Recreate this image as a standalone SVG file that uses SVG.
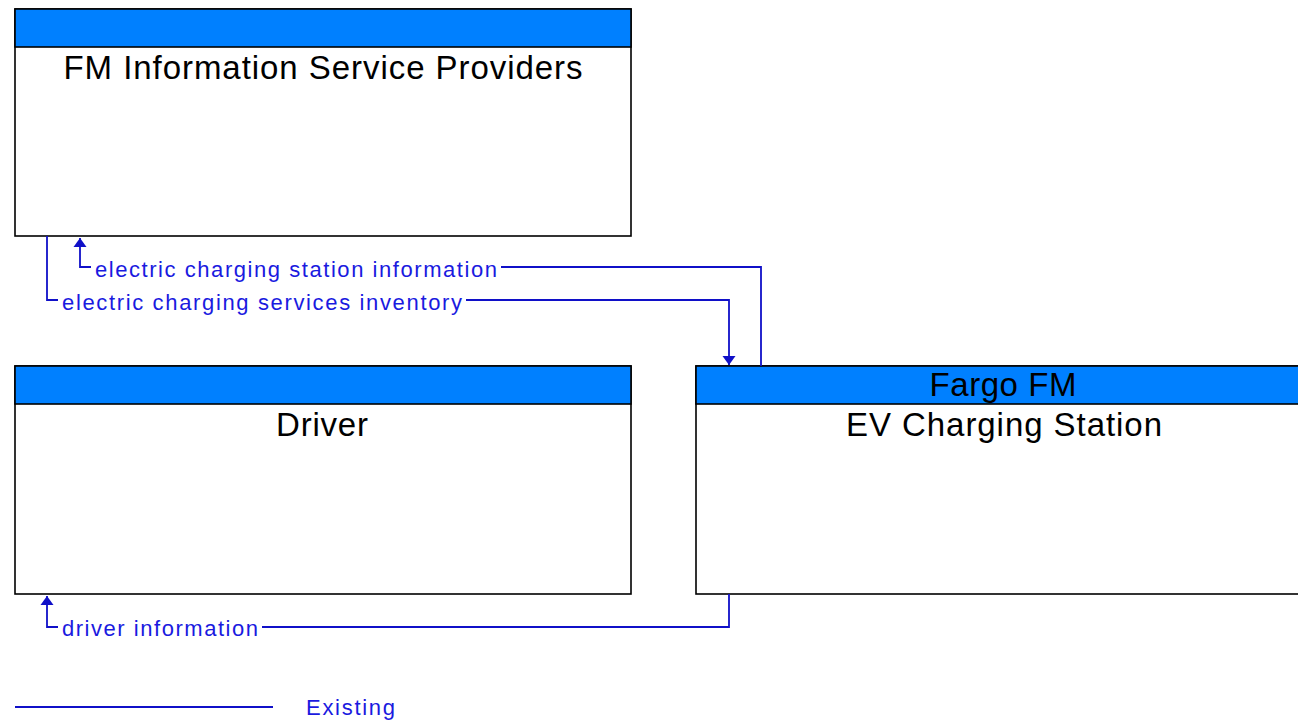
<svg xmlns="http://www.w3.org/2000/svg" width="1298" height="723" viewBox="0 0 1298 723">
<style>
.box{fill:#fff;stroke:#000;stroke-width:1.6}
.hdr{fill:#0080FF;stroke:#000;stroke-width:1.6}
.title{font-family:"Liberation Sans",Arial,sans-serif;font-size:33px;fill:#000;text-anchor:middle}
.flow{fill:none;stroke:#1010C8;stroke-width:1.8}
.lbl{font-family:"Liberation Sans",Arial,sans-serif;font-size:22px;fill:#1a1adf}
</style>
<defs>
<marker id="arr" markerWidth="14" markerHeight="14" refX="10" refY="7" orient="auto" markerUnits="userSpaceOnUse">
<path d="M10,7 L1,0.5 L1,13.5 z" fill="#1010C8"/>
</marker>
</defs>
<rect width="1298" height="723" fill="#fff"/>
<g id="fm-isp">
<rect class="box" x="15" y="9" width="616" height="227"/>
<rect class="hdr" x="15" y="9" width="616" height="38"/>
<text class="title" x="323" y="79" textLength="519" lengthAdjust="spacing">FM Information Service Providers</text>
</g>
<g id="driver">
<rect class="box" x="15" y="366" width="616" height="228"/>
<rect class="hdr" x="15" y="366" width="616" height="38"/>
<text class="title" x="322" y="436" textLength="92" lengthAdjust="spacing">Driver</text>
</g>
<g id="ev-station">
<rect class="box" x="696" y="366" width="616" height="228"/>
<rect class="hdr" x="696" y="366" width="616" height="38"/>
<text class="title" x="1003" y="396" textLength="147" lengthAdjust="spacing">Fargo FM</text>
<text class="title" x="1004" y="436" textLength="316" lengthAdjust="spacing">EV Charging Station</text>
</g>
<g id="connectors">
<path class="flow" d="M761,366 V267 H501"/>
<path class="flow" d="M91,267 H80 V238" marker-end="url(#arr)"/>
<text class="lbl" x="95" y="277" textLength="402" lengthAdjust="spacing">electric charging station information</text>
<path class="flow" d="M47,236 V300 H58"/>
<path class="flow" d="M466,300 H729 V365" marker-end="url(#arr)"/>
<text class="lbl" x="62" y="310" textLength="400" lengthAdjust="spacing">electric charging services inventory</text>
<path class="flow" d="M729,594 V627 H262"/>
<path class="flow" d="M58,627 H47 V596" marker-end="url(#arr)"/>
<text class="lbl" x="62" y="636" textLength="196" lengthAdjust="spacing">driver information</text>
</g>
<g id="legend">
<line class="flow" x1="15" y1="707" x2="273" y2="707"/>
<text class="lbl" x="306" y="715" textLength="89" lengthAdjust="spacing">Existing</text>
</g>
</svg>
